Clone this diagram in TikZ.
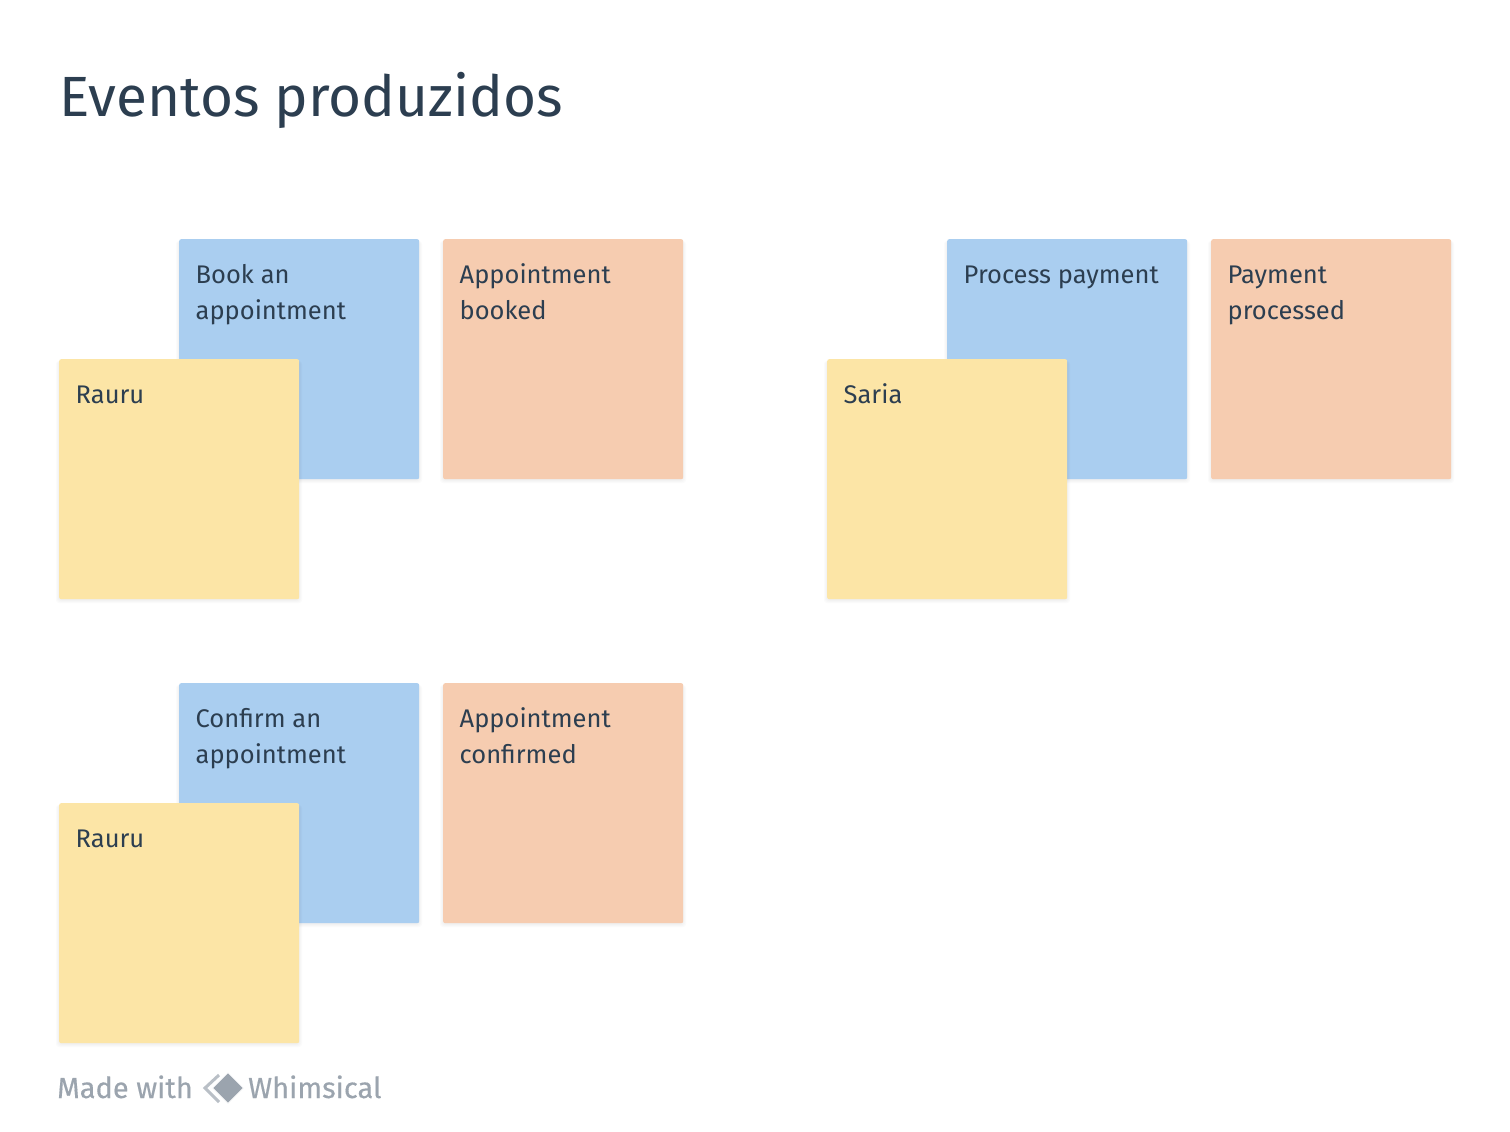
\documentclass[tikz,border=0pt]{standalone}
\usepackage{fontspec}
\setmainfont{Fira Sans}
\newfontfamily\brandfont[FakeBold=0.35]{Fira Sans}
\definecolor{ink}{HTML}{2C3E50}
\definecolor{cblue}{HTML}{AACEF0}
\definecolor{corange}{HTML}{F6CCB0}
\definecolor{cyellow}{HTML}{FCE5A6}
\definecolor{cgrey}{HTML}{9BA4AE}
\tikzset{
 sticky/.style={rectangle,rounded corners=2pt,minimum width=240pt,minimum height=240pt,inner sep=0pt,anchor=north west,draw=none},
 bluenote/.style={sticky,fill=cblue},
 orangenote/.style={sticky,fill=corange},
 yellownote/.style={sticky,fill=cyellow},
 notetext/.style={anchor=north west,inner sep=0pt,align=left,text=ink,font=\fontsize{25.5}{36}\selectfont},
 titletext/.style={anchor=base west,inner sep=0pt,text=ink,font=\fontsize{56.7}{70}\selectfont},
 brandtext/.style={anchor=base west,inner sep=0pt,text=cgrey,font=\brandfont\fontsize{29}{36}\selectfont}
}
% softly shaded edge under a note
\newcommand{\softshadow}[2]{%
 \foreach \g in {3,2,1,0}{%
  \fill[black,opacity=0.014,rounded corners=3pt]
   (#1-\g,#2+2) rectangle (#1+240+\g,#2+240+\g+1);}%
}
% a note and its text; #1 style, #2 name, #3 x, #4 y, #5 text
\newcommand{\note}[5]{%
 \softshadow{#3}{#4}
 \node[#1] (#2) at (#3,#4) {};
 \node[notetext] (#2-text) at (#3+16.5,#4+22) {\rule{0pt}{22pt}#5};
}
\begin{document}
\begin{tikzpicture}[x=1pt,y=-1pt]
\useasboundingbox (0,0) rectangle (1510,1132);
\fill[white] (0,0) rectangle (1510,1132);
\node[titletext] (title) at (59.5,116.5) {Eventos produzidos};
\note{bluenote}{a1}{179}{239}{Book an\\appointment}
\note{orangenote}{a2}{443}{239}{Appointment\\booked}
\note{yellownote}{a3}{59}{359}{Rauru}
\note{bluenote}{b1}{947}{239}{Process payment}
\note{orangenote}{b2}{1211}{239}{Payment\\processed}
\note{yellownote}{b3}{827}{359}{Saria}
\note{bluenote}{c1}{179}{683}{Confirm an\\appointment}
\note{orangenote}{c2}{443}{683}{Appointment\\confirmed}
\note{yellownote}{c3}{59}{803}{Rauru}
\node[brandtext] (made) at (57,1098) {Made with};
\draw[cgrey!70,line width=3pt,line join=miter] (219,1075) -- (205,1088) -- (219,1102);
\fill[cgrey,draw=white,line width=1pt] (228,1072.5) -- (243.5,1088) -- (228,1103.5) -- (212.5,1088) -- cycle;
\node[brandtext] (whim) at (248,1098) {Whimsical};
\end{tikzpicture}
\end{document}
